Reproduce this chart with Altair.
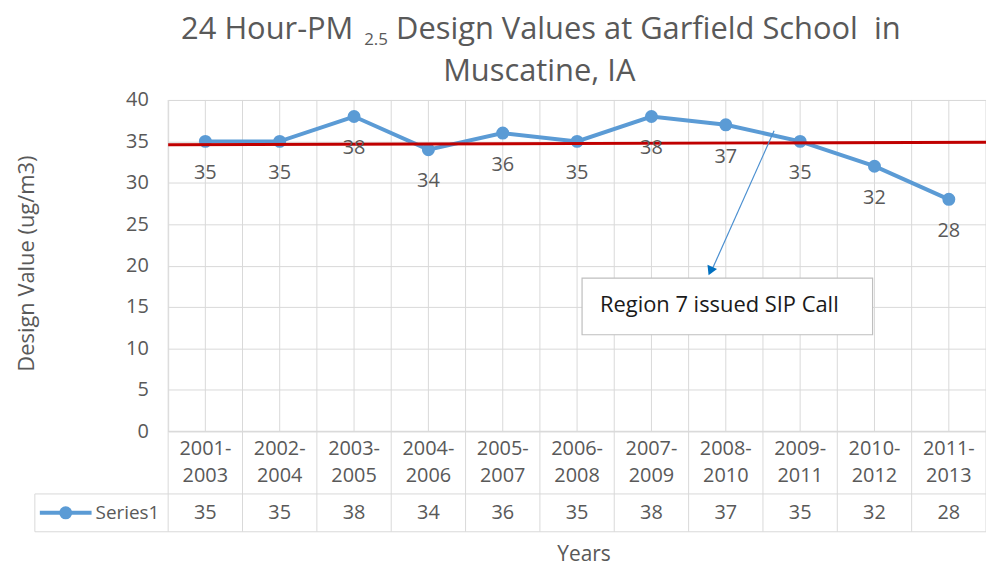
import altair as alt
import pandas as pd

periods = ["2001-2003", "2002-2004", "2003-2005", "2004-2006", "2005-2007", "2006-2008",
           "2007-2009", "2008-2010", "2009-2011", "2010-2012", "2011-2013"]
values = [35, 35, 38, 34, 36, 35, 38, 37, 35, 32, 28]
standard_line = [34.6, 34.9]  # red reference line, left and right ends
y_ticks = [0, 5, 10, 15, 20, 25, 30, 35, 40]

FONT = "Open Sans"
W, H = 822, 333
GRID = "#d9d9d9"
TXT = "#595959"

df = pd.DataFrame({
    "period": periods,
    "value": values,
    "line1": [p[:5] for p in periods],
    "line2": [p[5:] for p in periods],
})

xs = alt.Scale(type="band", domain=periods, paddingInner=0, paddingOuter=0)
ys = alt.Scale(domain=[0, 40])
X = lambda **kw: alt.X("period:N", scale=xs, axis=None, **kw)

base = alt.Chart(df)
one = alt.Chart(pd.DataFrame({"k": [0]}))  # single-row source for annotations

yaxis = base.mark_line(opacity=0).encode(
    x=X(),
    y=alt.Y("value:Q", scale=ys, axis=alt.Axis(
        values=y_ticks, grid=True, gridColor=GRID, gridWidth=1, domain=False, ticks=False,
        labelFontSize=20, labelColor=TXT, labelPadding=20, labelFont=FONT,
        title="Design Value (ug/m3)", titleFontSize=22, titleColor=TXT, titleFont=FONT,
        titleFontWeight="normal", titleX=-130, titleY=164)),
)

vgrid_c = base.mark_rule(color=GRID, strokeWidth=1).encode(
    x=X(), y=alt.value(0), y2=alt.value(H))
vgrid_b = base.mark_rule(color=GRID, strokeWidth=1).encode(
    x=X(bandPosition=0), y=alt.value(0), y2=alt.value(434))
right_edge = one.mark_rule(color=GRID, strokeWidth=1).encode(
    x=alt.value(W), y=alt.value(0), y2=alt.value(434))

h1 = one.mark_rule(color=GRID).encode(x=alt.value(0), x2=alt.value(W), y=alt.value(H))
h2 = one.mark_rule(color=GRID).encode(x=alt.value(-134), x2=alt.value(W), y=alt.value(396))
h3 = one.mark_rule(color=GRID).encode(x=alt.value(-134), x2=alt.value(W), y=alt.value(434))
v_leg = one.mark_rule(color=GRID).encode(x=alt.value(-134), y=alt.value(396), y2=alt.value(434))
frame = one.mark_rule(color=GRID).encode(x=alt.value(-166), y=alt.value(-99), y2=alt.value(479))

line = base.mark_line(color="#5b9bd5", strokeWidth=4).encode(
    x=X(), y=alt.Y("value:Q", scale=ys))
pts = base.mark_circle(color="#5b9bd5", size=170, opacity=1).encode(
    x=X(), y=alt.Y("value:Q", scale=ys))
labels = base.mark_text(fontSize=20, color=TXT, font=FONT, dy=32).encode(
    x=X(), y=alt.Y("value:Q", scale=ys), text="value:Q")

red = one.mark_rule(color="#c00000", strokeWidth=3).encode(
    x=alt.value(0), x2=alt.value(W),
    y=alt.datum(standard_line[0]), y2=alt.datum(standard_line[1]))

cat1 = base.mark_text(fontSize=20, color=TXT, font=FONT).encode(
    x=X(), y=alt.value(351), text="line1:N")
cat2 = base.mark_text(fontSize=20, color=TXT, font=FONT).encode(
    x=X(), y=alt.value(378), text="line2:N")
vals = base.mark_text(fontSize=20, color=TXT, font=FONT).encode(
    x=X(), y=alt.value(415), text="value:Q")

leg_line = one.mark_rule(color="#5b9bd5", strokeWidth=4).encode(
    x=alt.value(-129), x2=alt.value(-77), y=alt.value(415))
leg_pt = one.mark_point(shape="circle", filled=True, color="#5b9bd5", size=170, opacity=1).encode(
    x=alt.value(-103), y=alt.value(415))
leg_txt = one.mark_text(fontSize=19, color=TXT, font=FONT, align="left").encode(
    x=alt.value(-73), y=alt.value(415), text=alt.value("Series1"))

years = one.mark_text(fontSize=21, color=TXT, font=FONT).encode(
    x=alt.value(418), y=alt.value(457), text=alt.value("Years"))

TB = dict(color=TXT, font=FONT, baseline="alphabetic")
t1 = one.mark_text(fontSize=31, align="left", **TB).encode(
    x=alt.value(13), y=alt.value(-61), text=alt.value("24 Hour-PM"))
t2 = one.mark_text(fontSize=17, align="left", **TB).encode(
    x=alt.value(197), y=alt.value(-55), text=alt.value("2.5"))
t3 = one.mark_text(fontSize=31, align="left", **TB).encode(
    x=alt.value(229), y=alt.value(-61), text=alt.value("Design Values at Garfield School\u00a0 in"))
t4 = one.mark_text(fontSize=31, **TB).encode(
    x=alt.value(373), y=alt.value(-19), text=alt.value("Muscatine, IA"))

arrow = one.mark_rule(color="#4a8fd0", strokeWidth=1.2).encode(
    x=alt.value(609), y=alt.value(31), x2=alt.value(546), y2=alt.value(172))
head = one.mark_point(shape="triangle-down", filled=True, color="#0070c0", size=110, opacity=1, angle=24).encode(
    x=alt.value(545), y=alt.value(172))
box = one.mark_rect(fill="white", stroke="#bfbfbf", strokeWidth=1.2).encode(
    x=alt.value(416), x2=alt.value(708), y=alt.value(179), y2=alt.value(236))
box_txt = one.mark_text(fontSize=22, color="#1a1a1a", font=FONT, align="left").encode(
    x=alt.value(434), y=alt.value(206), text=alt.value("Region 7 issued SIP Call"))

chart = alt.layer(
    frame, yaxis, vgrid_c, vgrid_b, right_edge, h1, h2, h3, v_leg,
    line, pts, red, labels, cat1, cat2, vals, leg_line, leg_pt, leg_txt, years,
    t1, t2, t3, t4, arrow, head, box, box_txt,
).properties(
    width=W, height=H,
    autosize=alt.AutoSizeParams(type="none"),
    padding={"left": 161, "top": 91, "right": 0, "bottom": 136},
).configure_view(stroke=None).configure(background="white")

chart.save("out.html", embed_options={"renderer": "svg", "actions": False})
